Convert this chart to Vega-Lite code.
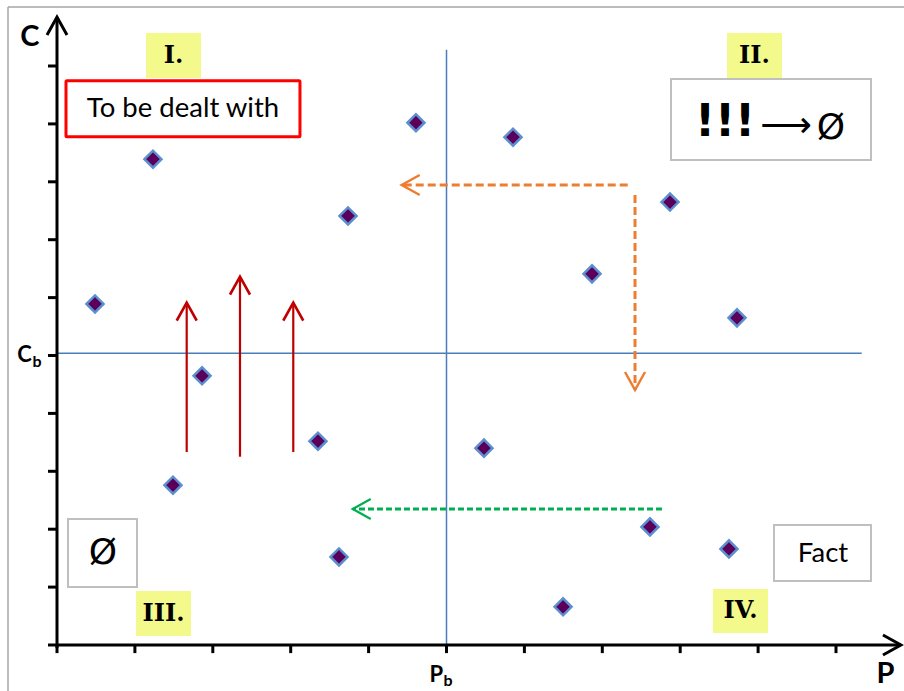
{
  "$schema": "https://vega.github.io/schema/vega-lite/v6.json",
  "width": 904,
  "height": 691,
  "autosize": "none",
  "padding": 0,
  "background": "white",
  "config": {"view": {"stroke": null}},
  "datasets": {
    "dots": [
      {"x": 0.488, "y": 5.89},
      {"x": 1.232, "y": 8.39},
      {"x": 1.862, "y": 4.65},
      {"x": 1.489, "y": 2.76},
      {"x": 3.736, "y": 7.41},
      {"x": 3.35, "y": 3.52},
      {"x": 3.62, "y": 1.52},
      {"x": 4.608, "y": 9.02},
      {"x": 5.854, "y": 8.77},
      {"x": 5.481, "y": 3.4},
      {"x": 6.868, "y": 6.41},
      {"x": 7.869, "y": 7.65},
      {"x": 8.729, "y": 5.65},
      {"x": 7.612, "y": 2.04},
      {"x": 8.626, "y": 1.66},
      {"x": 6.496, "y": 0.66}
    ],
    "segments": [
      {"set": "frame", "x": -0.629, "y": -0.8, "x2": -0.629, "y2": 11.02},
      {"set": "frame", "x": -0.629, "y": 11.02, "x2": 10.9, "y2": 11.02},
      {"set": "axis", "x": 0, "y": -0.05, "x2": 0, "y2": 10.846},
      {"set": "axis", "x": -0.1155, "y": 0, "x2": 10.834, "y2": 0},
      {"set": "tick", "x": -0.1155, "y": 1, "x2": 0, "y2": 1},
      {"set": "tick", "x": -0.1155, "y": 2, "x2": 0, "y2": 2},
      {"set": "tick", "x": -0.1155, "y": 3, "x2": 0, "y2": 3},
      {"set": "tick", "x": -0.1155, "y": 4, "x2": 0, "y2": 4},
      {"set": "tick", "x": -0.1155, "y": 5, "x2": 0, "y2": 5},
      {"set": "tick", "x": -0.1155, "y": 6, "x2": 0, "y2": 6},
      {"set": "tick", "x": -0.1155, "y": 7, "x2": 0, "y2": 7},
      {"set": "tick", "x": -0.1155, "y": 8, "x2": 0, "y2": 8},
      {"set": "tick", "x": -0.1155, "y": 9, "x2": 0, "y2": 9},
      {"set": "tick", "x": -0.1155, "y": 10, "x2": 0, "y2": 10},
      {"set": "tick", "x": 0, "y": 0, "x2": 0, "y2": -0.14},
      {"set": "tick", "x": 1, "y": 0, "x2": 1, "y2": -0.14},
      {"set": "tick", "x": 2, "y": 0, "x2": 2, "y2": -0.14},
      {"set": "tick", "x": 3, "y": 0, "x2": 3, "y2": -0.14},
      {"set": "tick", "x": 4, "y": 0, "x2": 4, "y2": -0.14},
      {"set": "tick", "x": 5, "y": 0, "x2": 5, "y2": -0.14},
      {"set": "tick", "x": 6, "y": 0, "x2": 6, "y2": -0.14},
      {"set": "tick", "x": 7, "y": 0, "x2": 7, "y2": -0.14},
      {"set": "tick", "x": 8, "y": 0, "x2": 8, "y2": -0.14},
      {"set": "tick", "x": 9, "y": 0, "x2": 9, "y2": -0.14},
      {"set": "tick", "x": 10, "y": 0, "x2": 10, "y2": -0.14},
      {"set": "ref", "x": 5, "y": 0, "x2": 5, "y2": 10.28},
      {"set": "ref", "x": 0, "y": 5.04, "x2": 10.33, "y2": 5.04},
      {"set": "raise", "x": 1.665, "y": 3.333, "x2": 1.665, "y2": 5.912},
      {"set": "raise", "x": 2.349, "y": 3.252, "x2": 2.349, "y2": 6.361},
      {"set": "raise", "x": 3.033, "y": 3.333, "x2": 3.033, "y2": 5.912},
      {"set": "orange", "x": 7.326, "y": 7.945, "x2": 4.425, "y2": 7.945},
      {"set": "orange", "x": 7.42, "y": 7.772, "x2": 7.42, "y2": 4.404},
      {"set": "green", "x": 7.766, "y": 2.349, "x2": 3.796, "y2": 2.349}
    ],
    "heads": [
      {"set": "axis", "dir": "up", "x": 0, "y": 10.846},
      {"set": "axis", "dir": "right", "x": 10.834, "y": 0},
      {"set": "raise", "dir": "up", "x": 1.665, "y": 5.912},
      {"set": "raise", "dir": "up", "x": 2.349, "y": 6.361},
      {"set": "raise", "dir": "up", "x": 3.033, "y": 5.912},
      {"set": "orange", "dir": "left", "x": 4.425, "y": 7.945},
      {"set": "orange", "dir": "down", "x": 7.42, "y": 4.404},
      {"set": "green", "dir": "left", "x": 3.796, "y": 2.349}
    ],
    "boxes": [
      {"set": "tag", "x": 1.1425, "y": 10.57, "x2": 1.8485, "y2": 9.793},
      {"set": "tag", "x": 8.601, "y": 10.57, "x2": 9.307, "y2": 9.793},
      {"set": "tag", "x": 1.014, "y": 0.933, "x2": 1.72, "y2": 0.155},
      {"set": "tag", "x": 8.421, "y": 0.967, "x2": 9.127, "y2": 0.207},
      {"set": "note", "x": 7.882, "y": 9.775, "x2": 10.449, "y2": 8.377},
      {"set": "note", "x": 0.141, "y": 2.176, "x2": 1.027, "y2": 1.002},
      {"set": "note", "x": 9.204, "y": 2.073, "x2": 10.449, "y2": 1.105},
      {"set": "alert", "x": 0.1155, "y": 9.746, "x2": 3.119, "y2": 8.779}
    ],
    "labels": [
      {"set": "axisBig", "text": "C", "x": -0.347, "y": 10.5},
      {"set": "axisBig", "text": "P", "x": 10.635, "y": -0.501},
      {"set": "axisMain", "text": "C", "x": -0.417, "y": 5.01},
      {"set": "axisMain", "text": "P", "x": 4.87, "y": -0.518},
      {"set": "axisSub", "text": "b", "x": -0.257, "y": 4.88},
      {"set": "axisSub", "text": "b", "x": 5.02, "y": -0.63},
      {"set": "roman", "text": "I.", "x": 1.496, "y": 10.18},
      {"set": "roman", "text": "II.", "x": 8.954, "y": 10.18},
      {"set": "roman", "text": "III.", "x": 1.367, "y": 0.544},
      {"set": "roman", "text": "IV.", "x": 8.774, "y": 0.587},
      {"set": "note", "text": "To be dealt with", "x": 1.617, "y": 9.257},
      {"set": "note", "text": "Fact", "x": 9.833, "y": 1.572},
      {"set": "bang", "text": "!!!", "x": 8.575, "y": 9.02},
      {"set": "empty", "text": "⟶", "x": 9.358, "y": 8.96},
      {"set": "empty", "text": "Ø", "x": 9.936, "y": 8.93},
      {"set": "empty", "text": "Ø", "x": 0.59, "y": 1.589}
    ]
  },
  "encoding": {
    "x": {"field": "x", "type": "quantitative", "axis": null,
          "scale": {"domain": [-0.7317, 10.8729], "nice": false, "zero": false}},
    "y": {"field": "y", "type": "quantitative", "axis": null,
          "scale": {"domain": [-0.7945, 11.1399], "nice": false, "zero": false}}
  },
  "layer": [
    {
      "data": {"name": "segments"},
      "transform": [{"filter": "datum.set === 'frame'"}],
      "mark": {"type": "rule", "color": "#a6a6a6", "strokeWidth": 1.5},
      "encoding": {"x2": {"field": "x2"}, "y2": {"field": "y2"}}
    },
    {
      "data": {"name": "boxes"},
      "transform": [{"filter": "datum.set === 'tag'"}],
      "mark": {"type": "rect", "fill": "#f4f98c"},
      "encoding": {"x2": {"field": "x2"}, "y2": {"field": "y2"}}
    },
    {
      "data": {"name": "boxes"},
      "transform": [{"filter": "datum.set === 'note'"}],
      "mark": {"type": "rect", "fill": "white", "stroke": "#bfbfbf", "strokeWidth": 2},
      "encoding": {"x2": {"field": "x2"}, "y2": {"field": "y2"}}
    },
    {
      "data": {"name": "boxes"},
      "transform": [{"filter": "datum.set === 'alert'"}],
      "mark": {"type": "rect", "fill": "white", "stroke": "#ff0000", "strokeWidth": 3, "cornerRadius": 1},
      "encoding": {"x2": {"field": "x2"}, "y2": {"field": "y2"}}
    },
    {
      "data": {"name": "segments"},
      "transform": [{"filter": "datum.set === 'ref'"}],
      "mark": {"type": "rule", "color": "#4a7ebb", "strokeWidth": 1.5},
      "encoding": {"x2": {"field": "x2"}, "y2": {"field": "y2"}}
    },
    {
      "data": {"name": "segments"},
      "transform": [{"filter": "datum.set === 'raise'"}],
      "mark": {"type": "rule", "color": "#c00000", "strokeWidth": 2.2},
      "encoding": {"x2": {"field": "x2"}, "y2": {"field": "y2"}}
    },
    {
      "data": {"name": "segments"},
      "transform": [{"filter": "datum.set === 'orange'"}],
      "mark": {"type": "rule", "color": "#ed7d31", "strokeWidth": 3, "strokeDash": [8, 4]},
      "encoding": {"x2": {"field": "x2"}, "y2": {"field": "y2"}}
    },
    {
      "data": {"name": "segments"},
      "transform": [{"filter": "datum.set === 'green'"}],
      "mark": {"type": "rule", "color": "#00b050", "strokeWidth": 3, "strokeDash": [6, 3]},
      "encoding": {"x2": {"field": "x2"}, "y2": {"field": "y2"}}
    },
    {
      "data": {"name": "segments"},
      "transform": [{"filter": "datum.set === 'axis' || datum.set === 'tick'"}],
      "mark": {"type": "rule", "color": "black", "strokeWidth": 3},
      "encoding": {"x2": {"field": "x2"}, "y2": {"field": "y2"}}
    },
    {
      "data": {"name": "heads"},
      "transform": [{"filter": "datum.dir === 'up'"}],
      "mark": {"type": "point", "shape": "M-1,1.8L0,0L1,1.8", "filled": false, "size": 400, "opacity": 1, "angle": 0},
      "encoding": {
        "stroke": {"field": "set", "type": "nominal", "legend": null,
                   "scale": {"domain": ["axis", "raise", "orange", "green"], "range": ["#000000", "#c00000", "#ed7d31", "#00b050"]}},
        "strokeWidth": {"field": "set", "type": "nominal", "legend": null,
                        "scale": {"domain": ["axis", "raise", "orange", "green"], "range": [3, 2.2, 2.8, 2.8]}}
      }
    },
    {
      "data": {"name": "heads"},
      "transform": [{"filter": "datum.dir === 'right'"}],
      "mark": {"type": "point", "shape": "M-1,1.8L0,0L1,1.8", "filled": false, "size": 400, "opacity": 1, "angle": 90},
      "encoding": {
        "stroke": {"field": "set", "type": "nominal", "legend": null},
        "strokeWidth": {"field": "set", "type": "nominal", "legend": null}
      }
    },
    {
      "data": {"name": "heads"},
      "transform": [{"filter": "datum.dir === 'down'"}],
      "mark": {"type": "point", "shape": "M-1,1.8L0,0L1,1.8", "filled": false, "size": 400, "opacity": 1, "angle": 180},
      "encoding": {
        "stroke": {"field": "set", "type": "nominal", "legend": null},
        "strokeWidth": {"field": "set", "type": "nominal", "legend": null}
      }
    },
    {
      "data": {"name": "heads"},
      "transform": [{"filter": "datum.dir === 'left'"}],
      "mark": {"type": "point", "shape": "M-1,1.8L0,0L1,1.8", "filled": false, "size": 400, "opacity": 1, "angle": 270},
      "encoding": {
        "stroke": {"field": "set", "type": "nominal", "legend": null},
        "strokeWidth": {"field": "set", "type": "nominal", "legend": null}
      }
    },
    {
      "data": {"name": "dots"},
      "mark": {"type": "point", "shape": "diamond", "filled": true, "size": 290, "fill": "#5a005a", "stroke": "#5b8fd0", "strokeWidth": 2.5, "opacity": 1}
    },
    {
      "data": {"name": "labels"},
      "transform": [{"filter": "datum.set === 'axisBig'"}],
      "mark": {"type": "text", "font": "Lato", "fontWeight": "bold", "fontSize": 29, "align": "center", "baseline": "middle", "color": "black"},
      "encoding": {"text": {"field": "text"}}
    },
    {
      "data": {"name": "labels"},
      "transform": [{"filter": "datum.set === 'axisMain'"}],
      "mark": {"type": "text", "font": "Lato", "fontWeight": "bold", "fontSize": 22, "align": "center", "baseline": "middle", "color": "black"},
      "encoding": {"text": {"field": "text"}}
    },
    {
      "data": {"name": "labels"},
      "transform": [{"filter": "datum.set === 'axisSub'"}],
      "mark": {"type": "text", "font": "Lato", "fontWeight": "bold", "fontSize": 16, "align": "center", "baseline": "middle", "color": "black"},
      "encoding": {"text": {"field": "text"}}
    },
    {
      "data": {"name": "labels"},
      "transform": [{"filter": "datum.set === 'roman'"}],
      "mark": {"type": "text", "font": "DejaVu Serif", "fontWeight": "bold", "fontSize": 24, "align": "center", "baseline": "middle", "color": "black"},
      "encoding": {"text": {"field": "text"}}
    },
    {
      "data": {"name": "labels"},
      "transform": [{"filter": "datum.set === 'note'"}],
      "mark": {"type": "text", "font": "Lato", "fontSize": 27.5, "align": "center", "baseline": "middle", "color": "black"},
      "encoding": {"text": {"field": "text"}}
    },
    {
      "data": {"name": "labels"},
      "transform": [{"filter": "datum.set === 'bang'"}],
      "mark": {"type": "text", "font": "DejaVu Sans", "fontWeight": "bold", "fontSize": 44, "align": "center", "baseline": "middle", "color": "black"},
      "encoding": {"text": {"field": "text"}}
    },
    {
      "data": {"name": "labels"},
      "transform": [{"filter": "datum.set === 'empty'"}],
      "mark": {"type": "text", "font": "DejaVu Sans", "fontSize": 36, "align": "center", "baseline": "middle", "color": "black"},
      "encoding": {"text": {"field": "text"}}
    }
  ]
}
